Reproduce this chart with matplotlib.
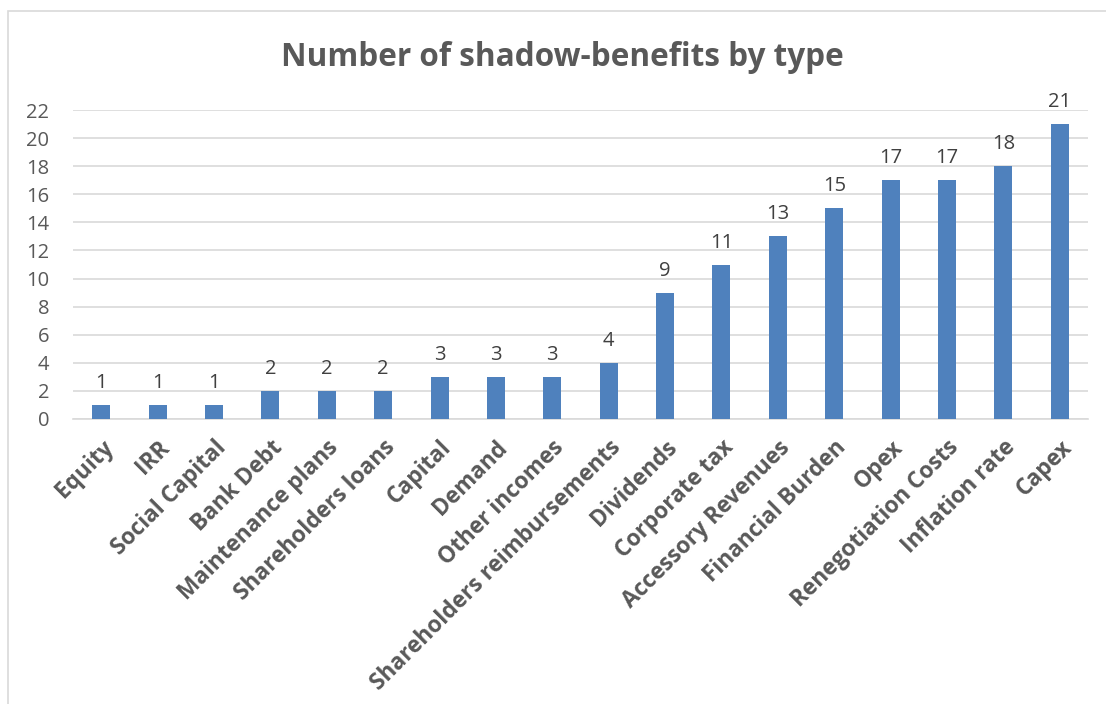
import numpy as np
import matplotlib.pyplot as plt
from matplotlib.patches import Rectangle

categories = ['Equity', 'IRR', 'Social Capital', 'Bank Debt', 'Maintenance plans',
              'Shareholders loans', 'Capital', 'Demand', 'Other incomes',
              'Shareholders reimbursements', 'Dividends', 'Corporate tax',
              'Accessory Revenues', 'Financial Burden', 'Opex',
              'Renegotiation Costs', 'Inflation rate', 'Capex']
counts = [1, 1, 1, 2, 2, 2, 3, 3, 3, 4, 9, 11, 13, 15, 17, 17, 18, 21]
yticks = list(range(0, 23, 2))

plt.rcParams['font.family'] = ['Open Sans', 'DejaVu Sans']

fig = plt.figure(figsize=(11.06, 7.04), dpi=100)
fig.patches.append(Rectangle((8 / 1106, -0.01), 1.02, 1 - 11 / 704 + 0.01,
                             transform=fig.transFigure, fill=False,
                             edgecolor='#D9D9D9', linewidth=1.2))

ax = fig.add_axes([73 / 1106, 1 - 419 / 704, 1015 / 1106, 309 / 704])
x = np.arange(len(categories))
bars = ax.bar(x, counts, width=0.32, color='#4F81BD', zorder=3)

for xi, v in zip(x, counts):
    ax.text(xi, v + 0.85, str(v), ha='center', va='bottom',
            fontsize=14.5, color='#404040')

ax.set_xlim(-0.5, len(categories) - 0.5)
ax.set_ylim(0, 22)
ax.set_yticks(yticks)
ax.set_yticklabels([str(t) for t in yticks], fontsize=14.5, color='#595959')
ax.tick_params(axis='y', length=0, pad=17)
ax.grid(axis='y', color='#D9D9D9', linewidth=1.2, zorder=0)
for s in ['top', 'right', 'left']:
    ax.spines[s].set_visible(False)
ax.spines['bottom'].set_color('#D9D9D9')
ax.spines['bottom'].set_linewidth(1.2)

ax.set_xticks(x)
ax.set_xticklabels(categories, rotation=45, ha='right', va='top',
                   rotation_mode='anchor', fontsize=16.3, fontweight='bold',
                   color='#595959')
ax.tick_params(axis='x', length=0, pad=12)

fig.text(562 / 1106, 1 - 57 / 704, 'Number of shadow-benefits by type',
         ha='center', va='center', fontsize=22.7, fontweight='bold',
         color='#595959')

fig.savefig('out.png', dpi=100)
